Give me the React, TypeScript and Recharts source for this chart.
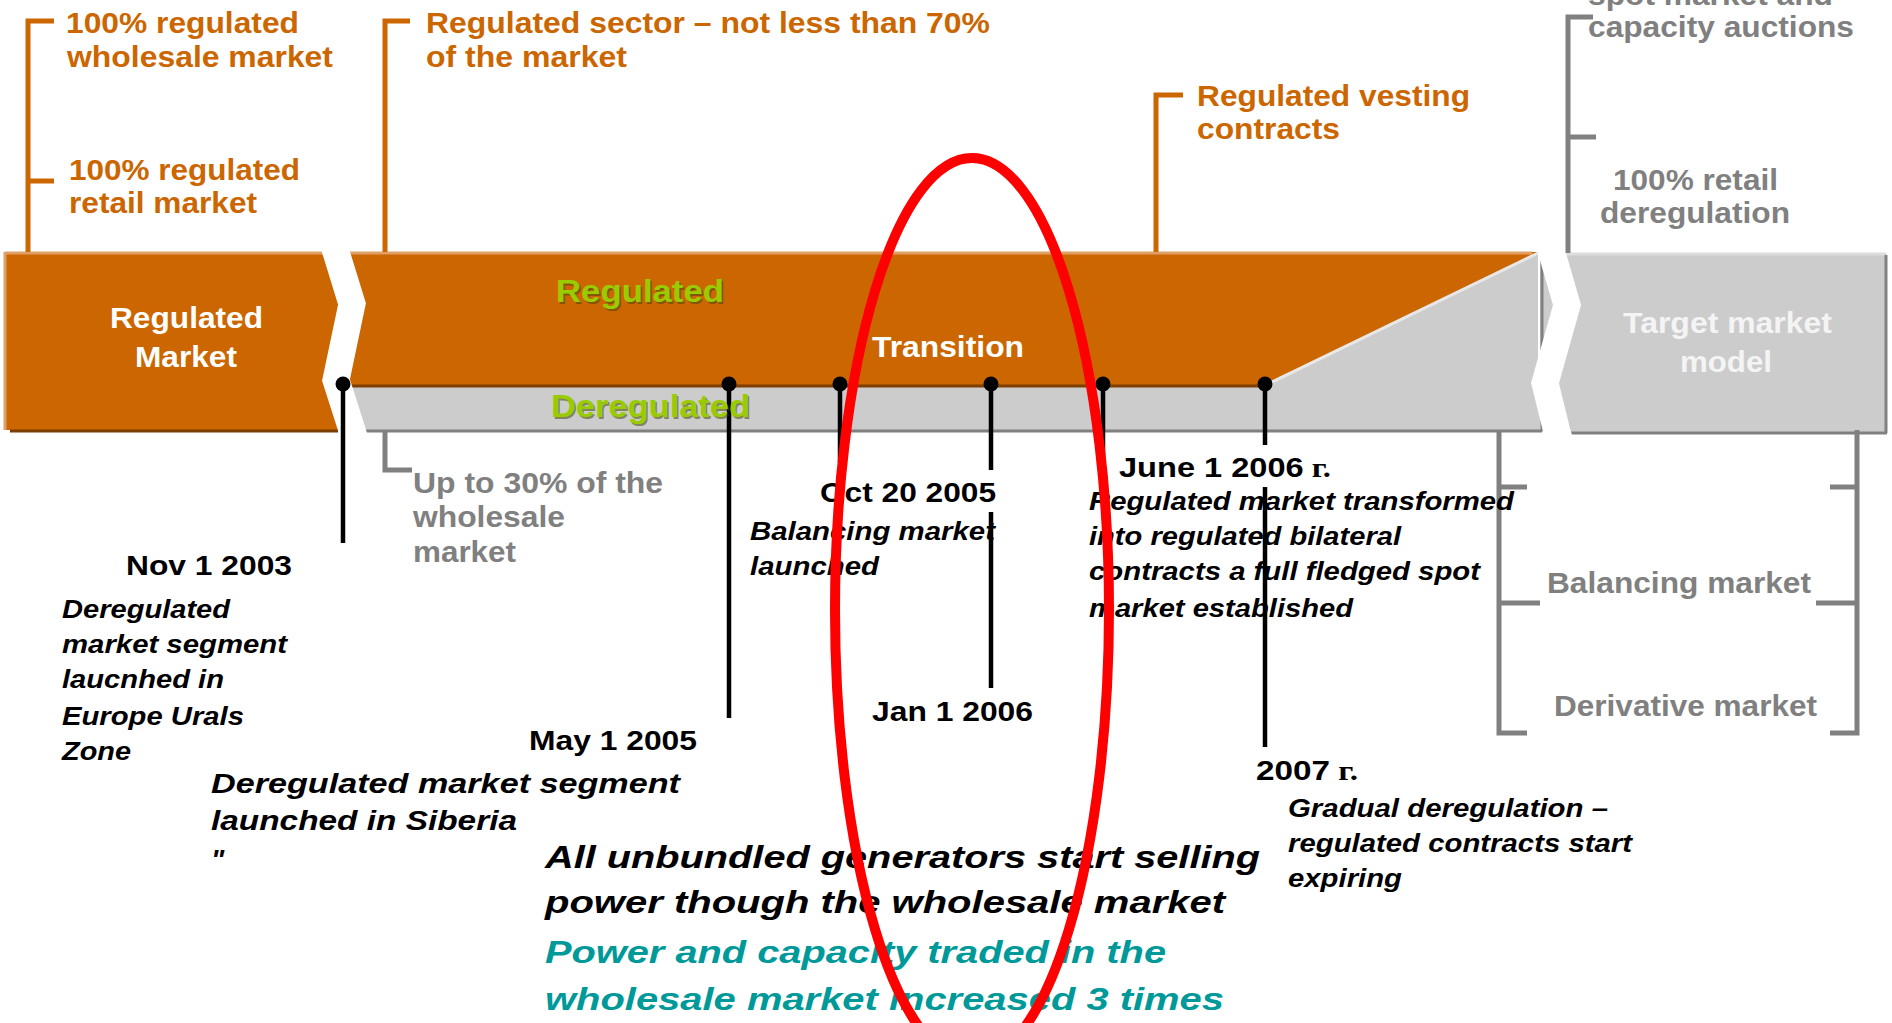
import React from "react";
import { ComposedChart, XAxis, YAxis, ReferenceArea, ReferenceDot, Line, Area } from "recharts";

const W = 1892;
const H = 1023;
const SANS = '"Liberation Sans", Arial, Helvetica, sans-serif';
const SERIF = '"Liberation Serif", "Times New Roman", serif';

const ORANGE = "#CC6600";
const GREY = "#CCCCCC";
const GREY_TEXT = "#808080";
const GREEN = "#99CC00";
const TEAL = "#009999";
const RED = "#FF0000";

// ================= DATA (labels and values) =================
const leftPhaseLabel = ["Regulated", "Market"];
const transitionLabel = ["Transition"];
const targetPhaseLabel = ["Target market", "model"];
const segmentLabels = ["Regulated", "Deregulated"];

// timeline milestones: position along the diagram axis
const milestoneX = [343, 729, 840, 991, 1103, 1265];
const milestoneDates = ["Nov 1 2003", "May 1 2005", "Oct 20 2005", "Jan 1 2006", "June 1 2006", "2007"];
const milestoneDateSuffix = ["", "", "", "", " г.", " г."];
const milestoneNotes = [
  ["Deregulated", "market segment", "laucnhed in", "Europe Urals", "Zone"],
  ["Deregulated market segment", "launched in Siberia", "\""],
  ["Balancing market", "launched"],
  [],
  ["Regulated market transformed", "into regulated bilateral", "contracts a full fledged spot", "market established"],
  ["Gradual deregulation –", "regulated contracts start", "expiring"],
];

const regulatedNotes = [
  ["100% regulated", "wholesale market"],
  ["100% regulated", "retail market"],
  ["Regulated sector – not less than 70%", "of the market"],
  ["Regulated vesting", "contracts"],
];
const deregulatedNotes = ["Up to 30% of the", "wholesale", "market"];
const targetNotes = [
  ["spot market and", "capacity auctions"],
  ["100% retail", "deregulation"],
  ["Balancing market"],
  ["Derivative market"],
];
const summaryLines = ["All unbundled generators start selling", "power though the wholesale market"];
const resultLines = ["Power and capacity traded in the", "wholesale market increased 3 times"];

// ================= LAYOUT (diagram units = px) =================
// [x, baseline, width]
const leftPhaseLayout = [[110, 328, 153], [135, 367, 102]];
const transitionLayout = [[872, 357, 152]];
const targetPhaseLayout = [[1623, 333, 209], [1680, 372, 92]];
const segmentLayout = [[556, 302, 168], [551, 417, 199]];
const dateLayout = [[126, 575, 166], [529, 750, 168], [820, 502, 176], [872, 721, 161], [1119, 477, 212], [1256, 780, 102]];
const noteLayout = [
  [[62, 618, 168], [62, 653, 225], [62, 688, 162], [62, 725, 182], [62, 760, 69]],
  [[211, 793, 469], [211, 830, 306], [211, 869, 0]],
  [[750, 540, 245], [750, 575, 129]],
  [],
  [[1089, 510, 425], [1089, 545, 312], [1089, 580, 391], [1089, 617, 264]],
  [[1288, 817, 320], [1288, 852, 344], [1288, 887, 114]],
];
const noteSize = [26, 28, 26, 26, 26, 26];
const regulatedLayout = [
  [[66, 33, 233], [67, 67, 266]],
  [[69, 180, 231], [69, 213, 188]],
  [[426, 33, 564], [426, 67, 201]],
  [[1197, 106, 273], [1197, 139, 143]],
];
const deregulatedLayout = [[413, 493, 250], [413, 527, 152], [413, 562, 103]];
const targetNotesLayout = [
  [[1588, 5, 245], [1588, 37, 266]],
  [[1613, 190, 165], [1600, 223, 190]],
  [[1547, 593, 264]],
  [[1554, 716, 263]],
];
const summaryLayout = [[545, 868, 715], [545, 913, 680]];
const resultLayout = [[545, 963, 621], [545, 1010, 679]];

const TIMELINE_Y = 384;
const stemSegments = [
  [[343, 384], [343, 543]],
  [[729, 384], [729, 718]],
  [[840, 384], [840, 462]],
  [[991, 384], [991, 470]],
  [[991, 512], [991, 688]],
  [[1103, 384], [1103, 458]],
  [[1265, 384], [1265, 445]],
  [[1265, 487], [1265, 747]],
];

const orangeBrackets = [
  [[54, 21], [28, 21], [28, 252]],
  [[28, 181], [54, 181]],
  [[410, 21], [385, 21], [385, 252]],
  [[1183, 95], [1156, 95], [1156, 252]],
];
const greyBrackets = [
  [[1593, 17], [1568, 17], [1568, 253]],
  [[1568, 137], [1596, 137]],
  [[385, 430], [385, 470], [412, 470]],
  [[1499, 430], [1499, 733], [1527, 733]],
  [[1499, 487], [1527, 487]],
  [[1499, 603], [1540, 603]],
  [[1857, 430], [1857, 733], [1830, 733]],
  [[1857, 487], [1830, 487]],
  [[1857, 603], [1816, 603]],
];
const separators = [
  [[332, 240], [336, 252], [352, 304], [336, 380], [352, 430], [355, 440]],
  [[1548, 240], [1552, 253], [1567, 305], [1545, 383], [1557, 432], [1560, 442]],
];
// [points, color, width]
const bevels: [number[][], string, number][] = [
  [[[5, 253], [1532, 253]], "#DFA066", 3],
  [[[5, 252], [5, 430]], "#DFA066", 3],
  [[[10, 431], [338, 431]], "#7A3D00", 3],
  [[[350, 386], [1265, 386]], "#7F3F00", 3],
  [[[350, 431], [1542, 431]], "#808080", 3],
  [[[1542, 253], [1542, 431]], "#808080", 3],
  [[[1268, 384], [1538, 253]], "#E8E8E8", 3],
  [[[1560, 254], [1885, 254]], "#DDDDDD", 3],
  [[[1886, 255], [1886, 433]], "#808080", 3],
  [[[1565, 433], [1887, 433]], "#808080", 3],
];
// [x1, x2, y1, y2, color]
const blocks: [number, number, number, number, string][] = [
  [5, 345, 252, 430, ORANGE],
  [345, 1538, 252, 386, ORANGE],
  [345, 1542, 386, 430, GREY],
  [1540, 1886, 253, 432, GREY],
];
const deregulationWedge = [{ x: 1265, y: 386 }, { x: 1538, y: 252 }];
const highlight = { x1: 835, x2: 1109, y1: 158, y2: 1062 };

const frame = [{ x: 0, y: 0 }, { x: W, y: H }];

// ================= helpers =================
const pts = (p: number[][]) => p.map(([x, y]) => ({ x, y }));

const poly = (key: string, p: number[][], color: string, width: number, z: number) => (
  <Line
    key={key}
    data={pts(p)}
    dataKey="y"
    type="linear"
    stroke={color}
    strokeWidth={width}
    dot={false}
    activeDot={false}
    isAnimationActive={false}
    legendType="none"
    strokeLinecap="butt"
    strokeLinejoin="miter"
    zIndex={z}
  />
);

type TOpts = { bold?: boolean; italic?: boolean; suffix?: string; z?: number; dx?: number; dy?: number };
const txt = (key: string, s: string, lay: number[], size: number, color: string, o: TOpts = {}) => {
  const [x, y, w] = lay;
  return (
    <ReferenceDot
      key={key}
      x={x}
      y={y}
      r={1}
      ifOverflow="visible"
      zIndex={o.z ?? 80}
      shape={(p: any) => (
        <text
          x={p.cx + (o.dx || 0)}
          y={p.cy + (o.dy || 0)}
          fill={color}
          fontFamily={SANS}
          fontSize={size}
          fontWeight={o.bold === false ? 400 : 700}
          fontStyle={o.italic ? "italic" : "normal"}
          textLength={w ? w : undefined}
          lengthAdjust={w ? "spacingAndGlyphs" : undefined}
        >
          {s}
          {o.suffix ? <tspan fontFamily={SERIF}>{o.suffix}</tspan> : null}
        </text>
      )}
    />
  );
};

export default function App() {
  const texts: React.ReactNode[] = [];
  leftPhaseLabel.forEach((s, i) => texts.push(txt(`lp${i}`, s, leftPhaseLayout[i], 29, "#FFFFFF")));
  transitionLabel.forEach((s, i) => texts.push(txt(`tr${i}`, s, transitionLayout[i], 29, "#FFFFFF")));
  targetPhaseLabel.forEach((s, i) => texts.push(txt(`tp${i}`, s, targetPhaseLayout[i], 29, "#F4F4F4")));
  segmentLabels.forEach((s, i) => {
    texts.push(txt(`sgs${i}`, s, segmentLayout[i], 32, "rgba(70,70,0,0.55)", { dx: 1.5, dy: 1.5 }));
    texts.push(txt(`sg${i}`, s, segmentLayout[i], 32, GREEN));
  });
  milestoneDates.forEach((s, i) =>
    texts.push(txt(`d${i}`, s, dateLayout[i], 28, "#000000", { suffix: milestoneDateSuffix[i] }))
  );
  milestoneNotes.forEach((lines, i) =>
    lines.forEach((s, j) =>
      texts.push(txt(`n${i}_${j}`, s, noteLayout[i][j], noteSize[i], "#000000", { italic: true }))
    )
  );
  regulatedNotes.forEach((lines, i) =>
    lines.forEach((s, j) => texts.push(txt(`r${i}_${j}`, s, regulatedLayout[i][j], 29, ORANGE)))
  );
  deregulatedNotes.forEach((s, i) => texts.push(txt(`dr${i}`, s, deregulatedLayout[i], 29, GREY_TEXT)));
  targetNotes.forEach((lines, i) =>
    lines.forEach((s, j) => texts.push(txt(`t${i}_${j}`, s, targetNotesLayout[i][j], 30, GREY_TEXT)))
  );
  summaryLines.forEach((s, i) => texts.push(txt(`su${i}`, s, summaryLayout[i], 32, "#000000", { italic: true })));
  resultLines.forEach((s, i) => texts.push(txt(`re${i}`, s, resultLayout[i], 32, TEAL, { italic: true })));

  return (
    <div style={{ position: "absolute", left: 0, top: 0, width: W, height: H, background: "#FFFFFF" }}>
      <ComposedChart width={W} height={H} data={frame} margin={{ top: 0, right: 0, bottom: 0, left: 0 }}>
        <XAxis type="number" dataKey="x" domain={[0, W]} allowDataOverflow hide />
        <YAxis type="number" dataKey="y" domain={[0, H]} allowDataOverflow reversed hide />

        {blocks.map(([x1, x2, y1, y2, c], i) => (
          <ReferenceArea
            key={`b${i}`}
            x1={x1}
            x2={x2}
            y1={y1}
            y2={y2}
            fill={c}
            fillOpacity={1}
            stroke="none"
            ifOverflow="visible"
            zIndex={10}
          />
        ))}

        <Area
          data={deregulationWedge}
          dataKey="y"
          baseValue={386}
          type="linear"
          fill={GREY}
          fillOpacity={1}
          stroke="none"
          dot={false}
          activeDot={false}
          isAnimationActive={false}
          legendType="none"
          zIndex={20}
        />

        {bevels.map(([p, c, w], i) => poly(`bv${i}`, p, c, w, 30))}
        {separators.map((p, i) => poly(`sep${i}`, p, "#FFFFFF", 27, 40))}
        {orangeBrackets.map((p, i) => poly(`ob${i}`, p, ORANGE, 5, 50))}
        {greyBrackets.map((p, i) => poly(`gb${i}`, p, GREY_TEXT, 5, 50))}
        {stemSegments.map((p, i) => poly(`st${i}`, p, "#000000", 4.5, 60))}

        {milestoneX.map((x, i) => (
          <ReferenceDot
            key={`dot${i}`}
            x={x}
            y={TIMELINE_Y}
            r={7.5}
            fill="#000000"
            stroke="none"
            ifOverflow="visible"
            zIndex={70}
          />
        ))}

        {texts}

        <ReferenceArea
          x1={highlight.x1}
          x2={highlight.x2}
          y1={highlight.y1}
          y2={highlight.y2}
          ifOverflow="visible"
          zIndex={90}
          shape={(p: any) => (
            <ellipse
              cx={p.x + p.width / 2}
              cy={p.y + p.height / 2}
              rx={p.width / 2}
              ry={p.height / 2}
              fill="none"
              stroke={RED}
              strokeWidth={10}
            />
          )}
        />
      </ComposedChart>
    </div>
  );
}
